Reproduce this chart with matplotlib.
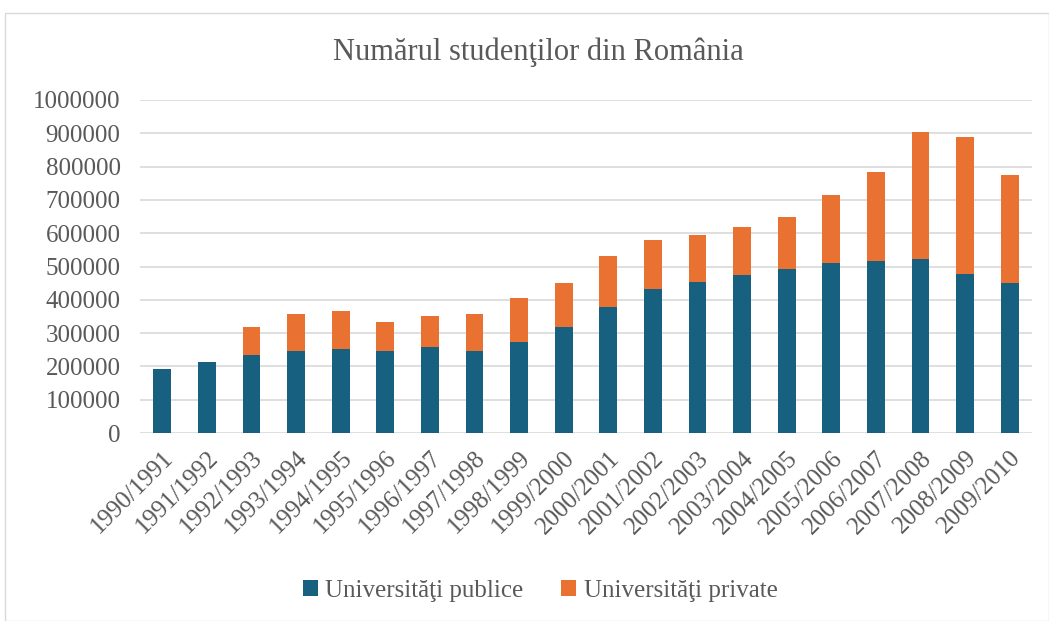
import matplotlib
matplotlib.use("Agg")
import matplotlib.pyplot as plt
from matplotlib.patches import Rectangle

years = ["1990/1991", "1991/1992", "1992/1993", "1993/1994", "1994/1995",
         "1995/1996", "1996/1997", "1997/1998", "1998/1999", "1999/2000",
         "2000/2001", "2001/2002", "2002/2003", "2003/2004", "2004/2005",
         "2005/2006", "2006/2007", "2007/2008", "2008/2009", "2009/2010"]
publice = [192810, 213000, 233500, 247500, 252500, 247500, 258500, 246500, 274500, 319600,
           378800, 431900, 453900, 475000, 492000, 511000, 518000, 523000, 478000, 450900]
totale = [192810, 213000, 318600, 358700, 367700, 334700, 351700, 358700, 405800, 449900,
          531100, 579200, 594200, 618200, 648300, 714400, 783600, 904800, 888800, 773500]
private = [t - p for t, p in zip(totale, publice)]
yticks = list(range(0, 1000001, 100000))

plt.rcParams['font.family'] = ['Liberation Serif', 'DejaVu Serif']
txt = '#595959'
blue = '#17607f'
orange = '#e97132'

fig = plt.figure(figsize=(10.49, 6.21), dpi=100)
fig.patches.append(Rectangle((5/1049, 0), 1 - 5/1049, 1 - 13/621, transform=fig.transFigure,
                             fill=False, edgecolor='#d9d9d9', linewidth=1))
ax = fig.add_axes([140/1049, 1 - 433/621, (1032 - 140)/1049, (433 - 100)/621])
x = range(len(years))
ax.bar(x, publice, width=0.4, color=blue, label='Universităţi publice', zorder=3)
ax.bar(x, private, width=0.4, bottom=publice, color=orange, label='Universităţi private', zorder=3)
ax.set_ylim(0, 1000000)
ax.set_xlim(-0.5, len(years) - 0.5)
ax.set_yticks(yticks)
ax.set_yticklabels([str(v) for v in yticks], fontsize=18, color=txt)
ax.set_xticks(list(x))
ax.set_xticklabels(years, rotation=45, ha='right', rotation_mode='anchor', fontsize=18, color=txt)
ax.tick_params(axis='y', length=0, pad=14)
ax.tick_params(axis='x', length=0, pad=10)
ax.grid(axis='y', color='#d9d9d9', linewidth=1.2, zorder=0)
for s in ax.spines.values():
    s.set_visible(False)
fig.text(0.513, 1 - 52/621, 'Numărul studenţilor din România', fontsize=22, color=txt,
         ha='center', va='center')
fig.legend(loc='center', bbox_to_anchor=(0.515, 1 - 591/621), ncol=2, frameon=False,
           fontsize=18, labelcolor=txt, handlelength=0.6, handleheight=0.6, columnspacing=1.5,
           handletextpad=0.3)
fig.savefig('out.png', dpi=100)
